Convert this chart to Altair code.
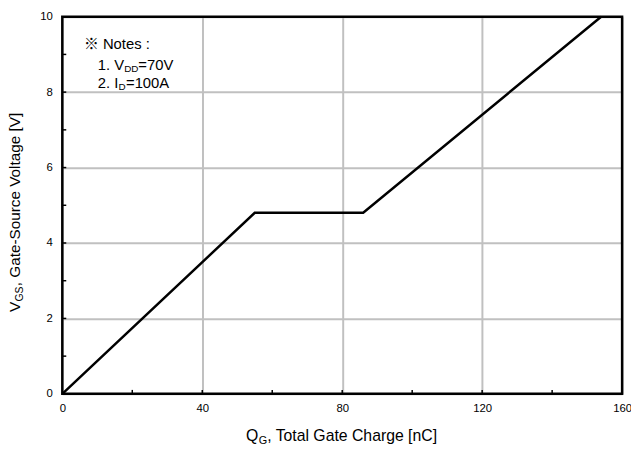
import altair as alt
import pandas as pd

# Data
qg = [0, 55, 86, 154]          # total gate charge [nC]
vgs = [0, 4.8, 4.8, 10]        # gate-source voltage [V]
x_ticks = [0, 40, 80, 120, 160]
y_ticks = [0, 2, 4, 6, 8, 10]
x_minor = [20, 40, 60, 80, 100, 120, 140]
y_minor = [1, 2, 3, 4, 5, 6, 7, 8, 9]

W, H = 567, 382
FONT = "Liberation Sans, Noto Sans CJK JP"

xs = alt.Scale(domain=[0, 160], nice=False, zero=False)
ys = alt.Scale(domain=[0, 10], nice=False, zero=False)

x_axis = alt.Axis(
    values=x_ticks, grid=True, gridColor="#c0c0c0", gridWidth=2,
    ticks=False, domain=False, title=None, labelFont=FONT,
    labelFontSize=11.5, labelColor="black", labelPadding=9,
    labelFlush=False, labelOverlap=False)
y_axis = alt.Axis(
    values=y_ticks, grid=True, gridColor="#c0c0c0", gridWidth=2,
    ticks=False, domain=False, title=None, labelFont=FONT,
    labelFontSize=11.5, labelColor="black", labelPadding=10,
    labelOverlap=False)

line_df = pd.DataFrame({"qg": qg, "vgs": vgs})
one = pd.DataFrame({"a": [0]})

line = alt.Chart(line_df).mark_line(color="black", strokeWidth=2.5).encode(
    x=alt.X("qg:Q", scale=xs, axis=x_axis),
    y=alt.Y("vgs:Q", scale=ys, axis=y_axis),
)

xt = alt.Chart(pd.DataFrame({"qg": x_minor})).mark_rule(color="black", strokeWidth=1.5).encode(
    x=alt.X("qg:Q", scale=xs, axis=x_axis),
    y=alt.value(H), y2=alt.value(H - 4),
)
yt = alt.Chart(pd.DataFrame({"vgs": y_minor})).mark_rule(color="black", strokeWidth=1.5).encode(
    y=alt.Y("vgs:Q", scale=ys, axis=y_axis),
    x=alt.value(0), x2=alt.value(4),
)

border = alt.Chart(one).mark_rect(fillOpacity=0, stroke="black", strokeWidth=2.5).encode(
    x=alt.value(0), x2=alt.value(W), y=alt.value(0), y2=alt.value(H)
)


def txt(s, x, y, size, angle=0, align="left", baseline="middle"):
    return alt.Chart(one).mark_text(
        text=s, font=FONT, fontSize=size, color="black", align=align,
        baseline=baseline, angle=angle,
    ).encode(x=alt.value(x), y=alt.value(y))


# x axis title
xtitle = [
    txt("Q", 186, 425, 16),
    txt("G", 199, 430, 11),
    txt(", Total Gate Charge [nC]", 207.5, 425, 16),
]
# y axis title (rotated)
ytitle = [
    txt("V", -48, 299, 15.5, angle=270),
    txt("GS", -43, 288.5, 10.5, angle=270),
    txt(", Gate-Source Voltage [V]", -48, 273, 15.5, angle=270),
]
notes = [
    txt("\u203b Notes :", 22, 28, 15),
    txt("1. V", 36, 49, 15),
    txt("DD", 62.7, 53, 10),
    txt("=70V", 77, 49, 15),
    txt("2. I", 36, 67, 15),
    txt("D", 57, 71, 10),
    txt("=100A", 64.5, 67, 15),
]

chart = alt.layer(line, xt, yt, border, *xtitle, *ytitle, *notes).properties(
    width=W, height=H,
    autosize=alt.AutoSizeParams(type="none"),
    padding={"left": 55, "top": 6, "right": 9, "bottom": 50},
    background="white",
).configure_view(stroke=None)

chart.save("out.html", embed_options={"renderer": "svg", "actions": False})
